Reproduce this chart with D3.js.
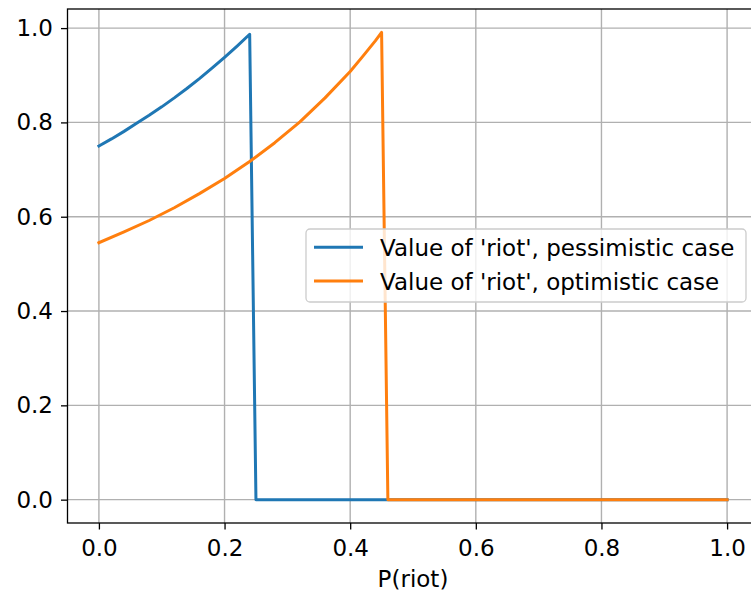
<!DOCTYPE html>
<html>
<head>
<meta charset="utf-8">
<script src="https://cdn.jsdelivr.net/npm/d3@7"></script>
<style>
  body { margin: 0; background: #fff; }
  svg { display: block; }
  svg text { font-family: "DejaVu Sans", sans-serif; font-size: 23px; fill: #000; }
</style>
</head>
<body>
<div id="chart"></div>
<script>
// values
var pessX = [0, 0.02, 0.04, 0.06, 0.08, 0.10, 0.12, 0.14, 0.16, 0.18, 0.20, 0.22, 0.24, 0.25, 1.0];
var pessY = [0.750, 0.765, 0.781, 0.798, 0.815, 0.833, 0.852, 0.872, 0.893, 0.915, 0.938, 0.962, 0.987, 0, 0];
var optX = [0, 0.04, 0.08, 0.12, 0.16, 0.20, 0.24, 0.28, 0.32, 0.36, 0.40, 0.42, 0.44, 0.45, 0.46, 1.0];
var optY = [0.545, 0.568, 0.592, 0.619, 0.649, 0.681, 0.717, 0.757, 0.801, 0.852, 0.908, 0.940, 0.973, 0.991, 0, 0];
var seriesNames = ["Value of 'riot', pessimistic case", "Value of 'riot', optimistic case"];
var colors = ["#1f77b4", "#ff7f0e"];
var xTicks = [0, 0.2, 0.4, 0.6, 0.8, 1.0];
var yTicks = [0, 0.2, 0.4, 0.6, 0.8, 1.0];

var W = 751, H = 594;
var margin = {top: 9, right: -7.5, bottom: 71, left: 67.5},
    width = W - margin.left - margin.right,
    height = H - margin.top - margin.bottom;

var svg = d3.select("#chart")
    .append("svg")
    .attr("width", W)
    .attr("height", H);

var g = svg.append("g")
    .attr("transform", "translate(" + margin.left + "," + margin.top + ")");

var x = d3.scaleLinear().domain([-0.05, 1.05]).range([0, width]);
var y = d3.scaleLinear().domain([-0.0495, 1.0405]).range([height, 0]);

// grid
g.selectAll(".vgrid").data(xTicks).enter().append("line")
    .attr("x1", d => x(d)).attr("x2", d => x(d))
    .attr("y1", 0).attr("y2", height)
    .attr("stroke", "#b0b0b0").attr("stroke-width", 1.4);
g.selectAll(".hgrid").data(yTicks).enter().append("line")
    .attr("x1", 0).attr("x2", width)
    .attr("y1", d => y(d)).attr("y2", d => y(d))
    .attr("stroke", "#b0b0b0").attr("stroke-width", 1.4);

// lines
var line = d3.line().x(d => x(d[0])).y(d => y(d[1]));
var series = [d3.zip(pessX, pessY), d3.zip(optX, optY)];
series.forEach(function(s, i) {
    g.append("path")
        .datum(s)
        .attr("d", line)
        .attr("fill", "none")
        .attr("stroke", colors[i])
        .attr("stroke-width", 3)
        .attr("stroke-linejoin", "round")
        .attr("stroke-linecap", "square");
});

// axes
var xAxis = g.append("g")
    .attr("transform", "translate(0," + height + ")")
    .call(d3.axisBottom(x).tickValues(xTicks).tickFormat(d3.format(".1f")).tickSize(6.5).tickPadding(10));
var yAxis = g.append("g")
    .call(d3.axisLeft(y).tickValues(yTicks).tickFormat(d3.format(".1f")).tickSize(6.5).tickPadding(8));
[xAxis, yAxis].forEach(function(a) {
    a.attr("font-size", null).attr("font-family", null);
    a.select(".domain").remove();
    a.selectAll(".tick line").attr("stroke", "#000").attr("stroke-width", 1.3);
    a.selectAll(".tick text").attr("fill", "#000");
});

// spines
g.append("rect")
    .attr("x", 0).attr("y", 0).attr("width", width).attr("height", height)
    .attr("fill", "none").attr("stroke", "#000").attr("stroke-width", 1.3);

// x label
g.append("text")
    .attr("x", x(0.5)).attr("y", height + 64)
    .attr("text-anchor", "middle")
    .text("P(riot)");

// legend
var leg = svg.append("g").attr("transform", "translate(306,229)");
leg.append("rect")
    .attr("width", 440).attr("height", 73).attr("rx", 4)
    .attr("fill", "#fff").attr("fill-opacity", 0.8)
    .attr("stroke", "#cccccc").attr("stroke-width", 1.3);
seriesNames.forEach(function(name, i) {
    var yy = 18.3 + i * 33.7;
    leg.append("line")
        .attr("x1", 8).attr("x2", 57).attr("y1", yy).attr("y2", yy)
        .attr("stroke", colors[i]).attr("stroke-width", 3);
    leg.append("text")
        .attr("x", 74).attr("y", yy + 9)
        .text(name);
});
</script>
</body>
</html>
